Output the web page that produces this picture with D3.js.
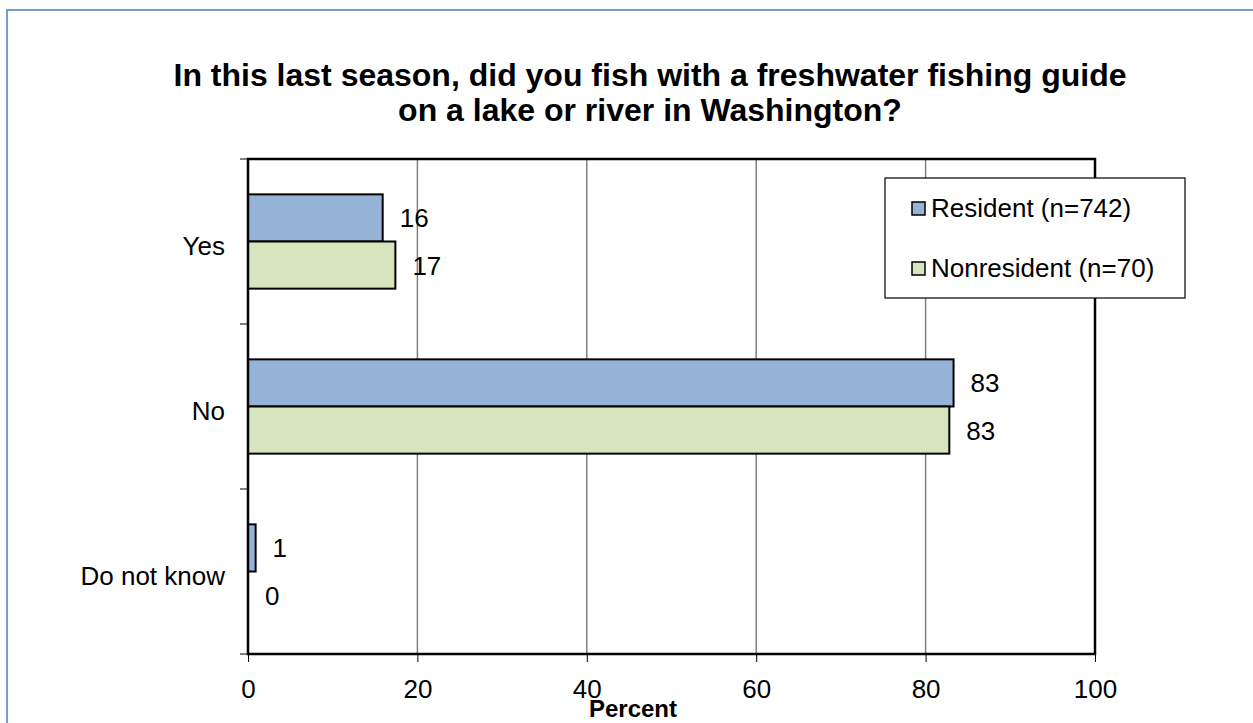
<!DOCTYPE html>
<html><head><meta charset="utf-8">
<script src="https://cdn.jsdelivr.net/npm/d3@7"></script>
<style>body{margin:0;background:#fff}svg{display:block;font-family:"Liberation Sans",Arial,sans-serif}</style>
</head><body><svg id="c" width="1253" height="723"></svg>
<script>
const categories = ["Yes", "No", "Do not know"];
const seriesNames = ["Resident (n=742)", "Nonresident (n=70)"];
const resident = [15.9, 83.3, 0.9];
const nonresident = [17.4, 82.8, 0];
const residentLabels = ["16", "83", "1"];
const nonresidentLabels = ["17", "83", "0"];
const xTicks = [0, 20, 40, 60, 80, 100];
const colors = ["#95B3D7", "#D7E4BD"];

const svg = d3.select("#c");
const L = 248, R = 1095, T = 159, B = 654;
const FS = 26;

svg.append("rect").attr("x", 7).attr("y", 10).attr("width", 1300).attr("height", 800)
  .attr("fill", "none").attr("stroke", "#4A7EBB").attr("stroke-width", 1.5);

svg.append("text").attr("x", 650).attr("y", 86).attr("text-anchor", "middle")
  .attr("font-weight", "bold").attr("font-size", 32)
  .text("In this last season, did you fish with a freshwater fishing guide");
svg.append("text").attr("x", 650).attr("y", 121).attr("text-anchor", "middle")
  .attr("font-weight", "bold").attr("font-size", 32)
  .text("on a lake or river in Washington?");

const x = d3.scaleLinear().domain([0, 100]).range([L, R]);
const y = d3.scaleBand().domain(categories).range([T, B]).paddingInner(0).paddingOuter(0);

// gridlines
svg.append("g").selectAll("line").data(xTicks.slice(1, -1)).join("line")
  .attr("x1", d => x(d)).attr("x2", d => x(d)).attr("y1", T).attr("y2", B)
  .attr("stroke", "#808080").attr("stroke-width", 1.5);

// bars (gap width 150%)
const barH = y.bandwidth() / 3.5;
const data = [resident, nonresident];
const labs = [residentLabels, nonresidentLabels];
data.forEach((vals, s) => {
  const g = svg.append("g");
  const by = c => y(c) + y.bandwidth() / 2 - barH + s * barH;
  g.selectAll("rect").data(categories).join("rect")
    .attr("x", x(0))
    .attr("y", by)
    .attr("width", (c, i) => x(vals[i]) - x(0))
    .attr("height", barH)
    .attr("fill", colors[s]).attr("stroke", "#000").attr("stroke-width", 2)
    .attr("display", (c, i) => vals[i] > 0 ? null : "none");
  g.selectAll("text").data(categories).join("text")
    .attr("x", (c, i) => x(vals[i]) + 17)
    .attr("y", c => by(c) + barH / 2 + 9.5)
    .attr("font-size", FS).attr("fill", "#000")
    .text((c, i) => labs[s][i]);
});

// plot border
svg.append("rect").attr("x", L).attr("y", T).attr("width", R - L).attr("height", B - T)
  .attr("fill", "none").attr("stroke", "#000").attr("stroke-width", 2.5);

// axes
const xAxis = svg.append("g").attr("transform", `translate(0,${B})`)
  .call(d3.axisBottom(x).tickValues(xTicks).tickSize(8));
xAxis.select(".domain").remove();
xAxis.selectAll("line").attr("stroke", "#000").attr("stroke-width", 1);
xAxis.selectAll("text").attr("y", 44).attr("dy", null).attr("font-size", FS)
  .attr("font-family", "Liberation Sans, Arial, sans-serif").attr("fill", "#000");

const yTicksPos = [T, ...categories.map(c => y(c) + y.bandwidth())];
svg.append("g").selectAll("line").data(yTicksPos).join("line")
  .attr("x1", L - 8).attr("x2", L).attr("y1", d => d).attr("y2", d => d)
  .attr("stroke", "#000").attr("stroke-width", 1);
svg.append("g").selectAll("text").data(categories).join("text")
  .attr("x", 225).attr("y", c => y(c) + y.bandwidth() / 2 + 13)
  .attr("text-anchor", "end").attr("font-size", FS).text(c => c);

svg.append("text").attr("x", 633).attr("y", 717).attr("text-anchor", "middle")
  .attr("font-weight", "bold").attr("font-size", 24).text("Percent");

// legend
const lg = svg.append("g");
lg.append("rect").attr("x", 885).attr("y", 178).attr("width", 300).attr("height", 120)
  .attr("fill", "#fff").attr("stroke", "#000").attr("stroke-width", 1.2);
seriesNames.forEach((n, i) => {
  const cy = 208 + i * 60;
  lg.append("rect").attr("x", 912).attr("y", cy - 6).attr("width", 13).attr("height", 13)
    .attr("fill", colors[i]).attr("stroke", "#000").attr("stroke-width", 1.5);
  lg.append("text").attr("x", 931).attr("y", cy + 9).attr("font-size", FS).text(n);
});
</script></body></html>
